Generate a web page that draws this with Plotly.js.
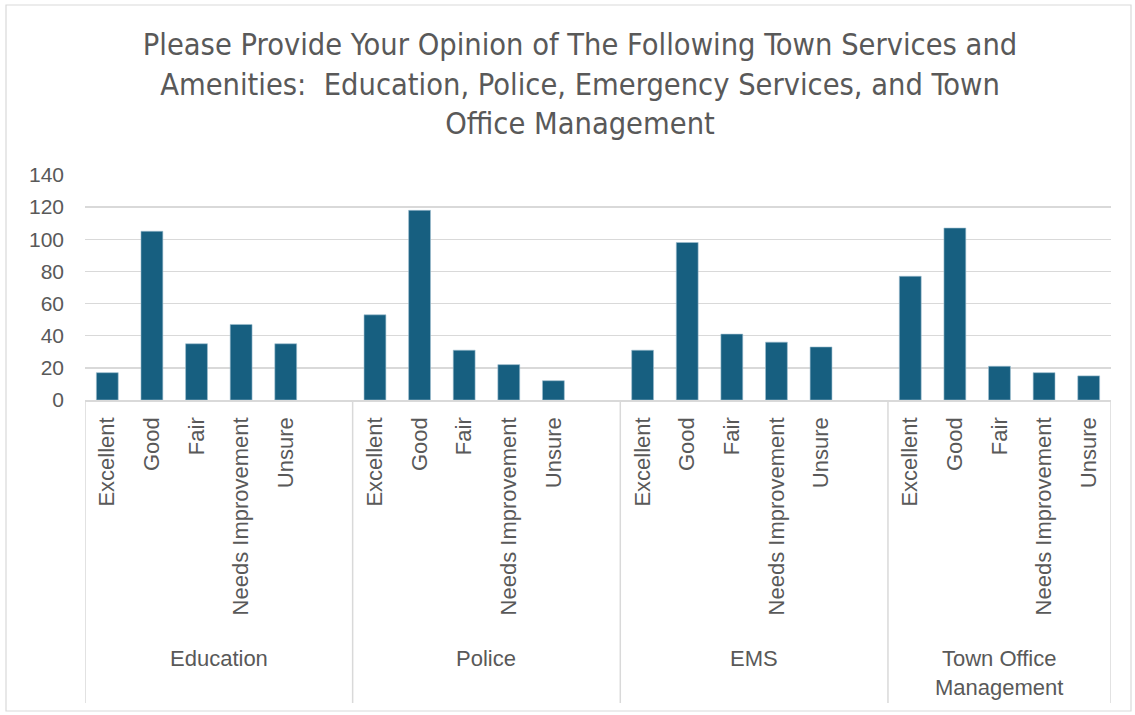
<!DOCTYPE html>
<html>
<head>
<meta charset="utf-8">
<script src="https://cdn.plot.ly/plotly-3.0.1.min.js"></script>
<style>html,body{margin:0;padding:0;background:#fff;}#chart{width:1135px;height:715px;}</style>
</head>
<body>
<div id="chart"></div>
<script>
// ---- data ----
const titleText = 'Please Provide Your Opinion of The Following Town Services and<br>Amenities:  Education, Police, Emergency Services, and Town<br>Office Management';
const groups = ['Education', 'Police', 'EMS', 'Town Office<br>Management'];
const ratings = ['Excellent', 'Good', 'Fair', 'Needs Improvement', 'Unsure'];
const education = [17, 105, 35, 47, 35];
const police = [53, 118, 31, 22, 12];
const ems = [31, 98, 41, 36, 33];
const townOffice = [77, 107, 21, 17, 15];
const yTicks = [0, 20, 40, 60, 80, 100, 120, 140];

const series = [education, police, ems, townOffice];
const textColor = '#595959';
const gridColor = '#d9d9d9';
const barColor = '#175f80';
const bodyFont = 'Liberation Sans, Arial, sans-serif';

// build slot positions (each group has an empty slot after it, except the last)
const xs = [], ys = [], tickvals = [], ticktext = [];
const shapes = [], annotations = [];
const slotsPer = ratings.length + 1;
const bounds = [];
series.forEach((vals, g) => {
  const start = g * slotsPer;
  const isLast = g === series.length - 1;
  const end = start + (isLast ? ratings.length : slotsPer) - 1;
  vals.forEach((v, i) => {
    xs.push(start + i); ys.push(v);
    tickvals.push(start + i); ticktext.push(ratings[i]);
  });
  bounds.push(start - 0.5);
  if (isLast) bounds.push(end + 0.5);
  annotations.push({
    x: (start + end) / 2, xref: 'x', y: -1.085, yref: 'paper',
    yanchor: 'top', xanchor: 'center', showarrow: false,
    text: groups[g], font: {family: bodyFont, size: 22, color: textColor}
  });
});
bounds.forEach(b => shapes.push({
  type: 'line', xref: 'x', yref: 'paper', x0: b, x1: b, y0: 0, y1: -1.347,
  line: {color: gridColor, width: 1.5}
}));
// outer chart border
shapes.push({type: 'rect', xref: 'paper', yref: 'paper',
  x0: (6 - 85) / 1026, x1: (1131 - 85) / 1026, y0: (400 - 711) / 225, y1: (400 - 5) / 225,
  line: {color: gridColor, width: 1.2}});

const trace = {
  type: 'bar', x: xs, y: ys,
  marker: {color: barColor, line: {color: '#9fbfd0', width: 0.6}},
  hoverinfo: 'y'
};

const layout = {
  width: 1135, height: 715,
  margin: {l: 85, r: 24, t: 175, b: 315},
  paper_bgcolor: '#fff', plot_bgcolor: '#fff',
  showlegend: false,
  bargap: 0.51,
  title: {
    text: titleText, x: 0.511, xanchor: 'center', y: 0.923, yanchor: 'top',
    font: {family: 'Liberation Sans Narrow, Arial Narrow, DejaVu Sans Condensed, sans-serif', size: 30.5, color: textColor}
  },
  xaxis: {
    range: [-0.5, bounds[bounds.length - 1]],
    tickmode: 'array', tickvals: tickvals, ticktext: ticktext,
    tickangle: -90, showgrid: false, zeroline: false,
    showline: true, linecolor: gridColor, linewidth: 1.5,
    ticks: '', ticklabelstandoff: 7,
    tickfont: {family: bodyFont, size: 22, color: textColor}
  },
  yaxis: {
    range: [0, 140], tickmode: 'array', tickvals: yTicks,
    showgrid: true, gridcolor: gridColor, gridwidth: 1.5,
    zeroline: false, showline: false, ticks: '', ticklabelstandoff: 20,
    tickfont: {family: bodyFont, size: 21, color: textColor}
  },
  shapes: shapes,
  annotations: annotations
};

Plotly.newPlot('chart', [trace], layout, {displayModeBar: false, staticPlot: true});
</script>
</body>
</html>
